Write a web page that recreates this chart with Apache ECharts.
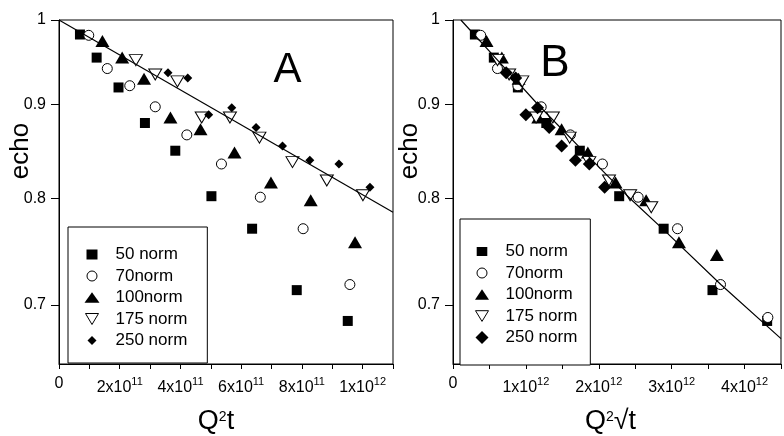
<!DOCTYPE html>
<html><head><meta charset="utf-8">
<script src="https://cdn.jsdelivr.net/npm/echarts@6/dist/echarts.min.js"></script>
<style>html,body{margin:0;padding:0;background:#fff}#c{width:784px;height:436px}</style>
</head><body><div id="c"></div>
<script>
// ---------------- DATA ----------------
const seriesNames = ['50 norm', '70norm', '100norm', '175 norm', '250 norm'];

// Panel A: echo vs Q^2 t
const echo50 = [0.982, 0.954, 0.919, 0.879, 0.849, 0.802, 0.770, 0.713, 0.686];
const q2t50 = [0.69e11, 1.24e11, 1.96e11, 2.83e11, 3.83e11, 5.02e11, 6.36e11, 7.83e11, 9.51e11];
const echo70 = [0.981, 0.941, 0.921, 0.897, 0.866, 0.835, 0.801, 0.770, 0.718];
const q2t70 = [0.98e11, 1.59e11, 2.33e11, 3.17e11, 4.21e11, 5.35e11, 6.63e11, 8.04e11, 9.58e11];
const echo100 = [0.974, 0.954, 0.929, 0.885, 0.872, 0.847, 0.816, 0.798, 0.757];
const q2t100 = [1.43e11, 2.08e11, 2.80e11, 3.67e11, 4.66e11, 5.78e11, 6.98e11, 8.29e11, 9.75e11];
const echo175 = [0.951, 0.934, 0.926, 0.885, 0.885, 0.863, 0.837, 0.818, 0.803];
const q2t175 = [2.53e11, 3.17e11, 3.90e11, 4.70e11, 5.63e11, 6.60e11, 7.69e11, 8.82e11, 10.01e11];
const echo250 = [0.936, 0.930, 0.888, 0.896, 0.874, 0.854, 0.839, 0.835, 0.811];
const q2t250 = [3.59e11, 4.24e11, 4.93e11, 5.69e11, 6.49e11, 7.36e11, 8.26e11, 9.22e11, 10.24e11];
const fitAx = [0, 1.1e12];
const fitAy = [1.0, 0.786];

// Panel B: echo vs Q^2 sqrt(t)
const echo50B = [0.982, 0.954, 0.919, 0.879, 0.849, 0.802, 0.770, 0.713, 0.686];
const q2sqrt50 = [0.30e12, 0.56e12, 0.89e12, 1.28e12, 1.74e12, 2.28e12, 2.89e12, 3.56e12, 4.31e12];
const echo70B = [0.981, 0.941, 0.921, 0.897, 0.866, 0.835, 0.801, 0.770, 0.718, 0.689];
const q2sqrt70 = [0.38e12, 0.61e12, 0.89e12, 1.21e12, 1.61e12, 2.05e12, 2.54e12, 3.08e12, 3.67e12, 4.32e12];
const echo100B = [0.974, 0.954, 0.929, 0.885, 0.872, 0.847, 0.816, 0.798, 0.757, 0.745];
const q2sqrt100 = [0.46e12, 0.67e12, 0.90e12, 1.17e12, 1.49e12, 1.85e12, 2.23e12, 2.65e12, 3.10e12, 3.62e12];
const echo175B = [0.951, 0.934, 0.926, 0.885, 0.885, 0.863, 0.837, 0.818, 0.803, 0.791];
const q2sqrt175 = [0.61e12, 0.77e12, 0.95e12, 1.14e12, 1.37e12, 1.60e12, 1.87e12, 2.14e12, 2.43e12, 2.72e12];
const echo250B = [0.936, 0.930, 0.888, 0.896, 0.874, 0.854, 0.839, 0.835, 0.811];
const q2sqrt250 = [0.73e12, 0.86e12, 1.00e12, 1.16e12, 1.32e12, 1.49e12, 1.68e12, 1.87e12, 2.08e12];
const fitBx = [0.108e12, 0.633e12, 1.171e12, 1.844e12, 2.382e12, 2.921e12, 3.674e12, 4.5e12];
const fitBy = [1.0, 0.949, 0.899, 0.844, 0.803, 0.767, 0.718, 0.671];

// Tick values / labels
const yTicks = [0.7, 0.8, 0.9, 1];
const xTicksA = [0, 2e11, 4e11, 6e11, 8e11, 1e12];
const xTickLabelsA = ['0', '2x10^11', '4x10^11', '6x10^11', '8x10^11', '1x10^12'];
const xTicksB = [0, 1e12, 2e12, 3e12, 4e12];
const xTickLabelsB = ['0', '1x10^12', '2x10^12', '3x10^12', '4x10^12'];

// ---------------- CHART ----------------
const FF = '"Liberation Sans", Arial, Helvetica, sans-serif';
const zip = (xs, ys) => xs.map((x, i) => [x, ys[i]]);

function makeFormatter(ticks, labels) {
  return function (v) {
    for (let i = 0; i < ticks.length; i++) {
      if (Math.abs(v - ticks[i]) < 1e6) {
        const p = labels[i].split('^');
        return p.length > 1 ? '{b|' + p[0] + '}{s|' + p[1] + '}' : p[0];
      }
    }
    return '';
  };
}
const xRich = {
  b: { fontSize: 16, lineHeight: 24, fontFamily: FF, color: '#000' },
  s: { fontSize: 11, verticalAlign: 'top', fontFamily: FF, color: '#000' }
};

function xAxis(gi, max, interval, ticks, labels) {
  return {
    type: 'value', gridIndex: gi, min: 0, max: max, interval: interval,
    axisLine: { show: true, onZero: false, lineStyle: { color: '#000', width: 1 } },
    axisTick: { show: true, length: 5, inside: false, lineStyle: { color: '#000' } },
    splitLine: { show: false },
    axisLabel: { formatter: makeFormatter(ticks, labels), margin: 12, fontSize: 16, lineHeight: 16,
      color: '#000', fontFamily: FF, rich: xRich, showMinLabel: true, showMaxLabel: true }
  };
}
function yAxis(gi) {
  return {
    type: 'log', logBase: 10, gridIndex: gi, min: 0.65, max: 1,
    axisLine: { show: true, onZero: false, lineStyle: { color: '#000', width: 1 } },
    axisTick: { show: true, length: 8, customValues: yTicks, lineStyle: { color: '#000' } },
    minorTick: { show: false },
    splitLine: { show: false },
    axisLabel: { customValues: yTicks, margin: 13, fontSize: 16, color: '#000', fontFamily: FF,
      formatter: v => String(+(+v).toFixed(3)) }
  };
}

const styleFilled = { color: '#000', borderWidth: 0, opacity: 1 };
const styleHollow = { color: '#fff', borderColor: '#000', borderWidth: 1, opacity: 1 };

function scat(name, xs, ys, gi, symbol, size, rot, hollow) {
  return {
    type: 'scatter', name: name, xAxisIndex: gi, yAxisIndex: gi,
    data: zip(xs, ys), symbol: symbol, symbolSize: size, symbolRotate: rot || 0,
    itemStyle: hollow ? styleHollow : styleFilled, silent: true, clip: true,
    emphasis: { disabled: true }
  };
}
function fitLine(xs, ys, gi) {
  return {
    type: 'line', name: 'fit', xAxisIndex: gi, yAxisIndex: gi, data: zip(xs, ys),
    symbol: 'none', showSymbol: false, lineStyle: { color: '#000', width: 1.2, opacity: 1 },
    silent: true, clip: true, z: 3
  };
}

// legend icon frame: 27 x 17, marker drawn in the left 17 x 17 cell
const ip = s => 'path://M0,0 M27,17 ' + s;
const circ = 'M3.5,8.5 A5,5 0 1,1 13.5,8.5 A5,5 0 1,1 3.5,8.5 Z';
const iconsA = [
  ip('M3,3.5 L14,3.5 L14,13.5 L3,13.5 Z'),
  ip(circ),
  ip('M1,13.8 L8.5,3.2 L16,13.8 Z'),
  ip('M2,3 L15,3 L8.5,14 Z'),
  ip('M8.5,4 L13,8.5 L8.5,13 L4,8.5 Z')
];
const iconsB = [
  ip('M3.2,4 L13.8,4 L13.8,13 L3.2,13 Z'),
  ip(circ),
  ip('M1.5,13.8 L8.5,3.2 L15.5,13.8 Z'),
  ip('M2,3.2 L15,3.2 L8.5,13.9 Z'),
  ip('M8.5,2 L15,8.5 L8.5,15 L2,8.5 Z')
];
const hollowIdx = [1, 3];
function legend(left, top, padding, icons) {
  return {
    orient: 'vertical', align: 'left', left: left, top: top, padding: padding,
    itemWidth: 27, itemHeight: 17, itemGap: 4, selectedMode: false,
    borderColor: '#000', borderWidth: 1, backgroundColor: '#fff',
    textStyle: { fontSize: 17, color: '#000', fontFamily: FF },
    data: seriesNames.map((n, i) => ({
      name: n, icon: icons[i],
      itemStyle: hollowIdx.includes(i) ? { color: '#fff', borderColor: '#000', borderWidth: 1, opacity: 1 }
                                       : { color: '#000', borderColor: '#000', borderWidth: 0, opacity: 1 }
    }))
  };
}

const supRich = {
  q: { fontSize: 27, lineHeight: 24, fontFamily: FF, fill: '#000' },
  s: { fontSize: 14, verticalAlign: 'top', fontFamily: FF, fill: '#000' }
};

const option = {
  animation: false,
  backgroundColor: '#fff',
  grid: [
    { left: 59, top: 20, width: 334, height: 344, show: true, borderColor: '#000', borderWidth: 1, backgroundColor: 'transparent' },
    { left: 453, top: 20, width: 334, height: 344, show: true, borderColor: '#000', borderWidth: 1, backgroundColor: 'transparent' }
  ],
  xAxis: [
    xAxis(0, 1.1e12, 1e11, xTicksA, xTickLabelsA),
    xAxis(1, 4.5e12, 0.5e12, xTicksB, xTickLabelsB)
  ],
  yAxis: [yAxis(0), yAxis(1)],
  legend: [
    legend(68, 227, [19, 20, 14, 15], iconsA),
    legend(460, 219, [24, 13, 19, 13], iconsB)
  ],
  series: [
    scat(seriesNames[0], q2t50, echo50, 0, 'rect', 10),
    scat(seriesNames[1], q2t70, echo70, 0, 'circle', 10, 0, true),
    scat(seriesNames[2], q2t100, echo100, 0, 'triangle', [14, 12]),
    scat(seriesNames[3], q2t175, echo175, 0, 'triangle', [13, 11], 180, true),
    scat(seriesNames[4], q2t250, echo250, 0, 'diamond', 9),
    fitLine(fitAx, fitAy, 0),
    scat(seriesNames[0], q2sqrt50, echo50B, 1, 'rect', 10),
    scat(seriesNames[1], q2sqrt70, echo70B, 1, 'circle', 10, 0, true),
    scat(seriesNames[2], q2sqrt100, echo100B, 1, 'triangle', [14, 12]),
    scat(seriesNames[3], q2sqrt175, echo175B, 1, 'triangle', [13, 11], 180, true),
    scat(seriesNames[4], q2sqrt250, echo250B, 1, 'diamond', 13),
    fitLine(fitBx, fitBy, 1)
  ],
  graphic: [
    { type: 'text', x: 287.5, y: 70, silent: true,
      style: { text: 'A', fontSize: 42, fontFamily: FF, fill: '#000', align: 'center', verticalAlign: 'middle' } },
    { type: 'text', x: 555, y: 64, silent: true,
      style: { text: 'B', fontSize: 44, fontFamily: FF, fill: '#000', align: 'center', verticalAlign: 'middle' } },
    { type: 'text', x: 21, y: 151, rotation: Math.PI / 2, silent: true,
      style: { text: 'echo', fontSize: 26, fontFamily: FF, fill: '#000', align: 'center', verticalAlign: 'middle' } },
    { type: 'text', x: 410, y: 151, rotation: Math.PI / 2, silent: true,
      style: { text: 'echo', fontSize: 26, fontFamily: FF, fill: '#000', align: 'center', verticalAlign: 'middle' } },
    { type: 'text', x: 216, y: 422, silent: true,
      style: { text: '{q|Q}{s|2}{q|t}', rich: supRich, fontFamily: FF, fill: '#000', align: 'center', verticalAlign: 'middle' } },
    { type: 'text', x: 610.5, y: 422, silent: true,
      style: { text: '{q|Q}{s|2}{q|\u221At}', rich: supRich, fontFamily: FF, fill: '#000', align: 'center', verticalAlign: 'middle' } }
  ]
};

const chart = echarts.init(document.getElementById('c'), null, { renderer: 'canvas' });
chart.setOption(option);
</script>
</body></html>
